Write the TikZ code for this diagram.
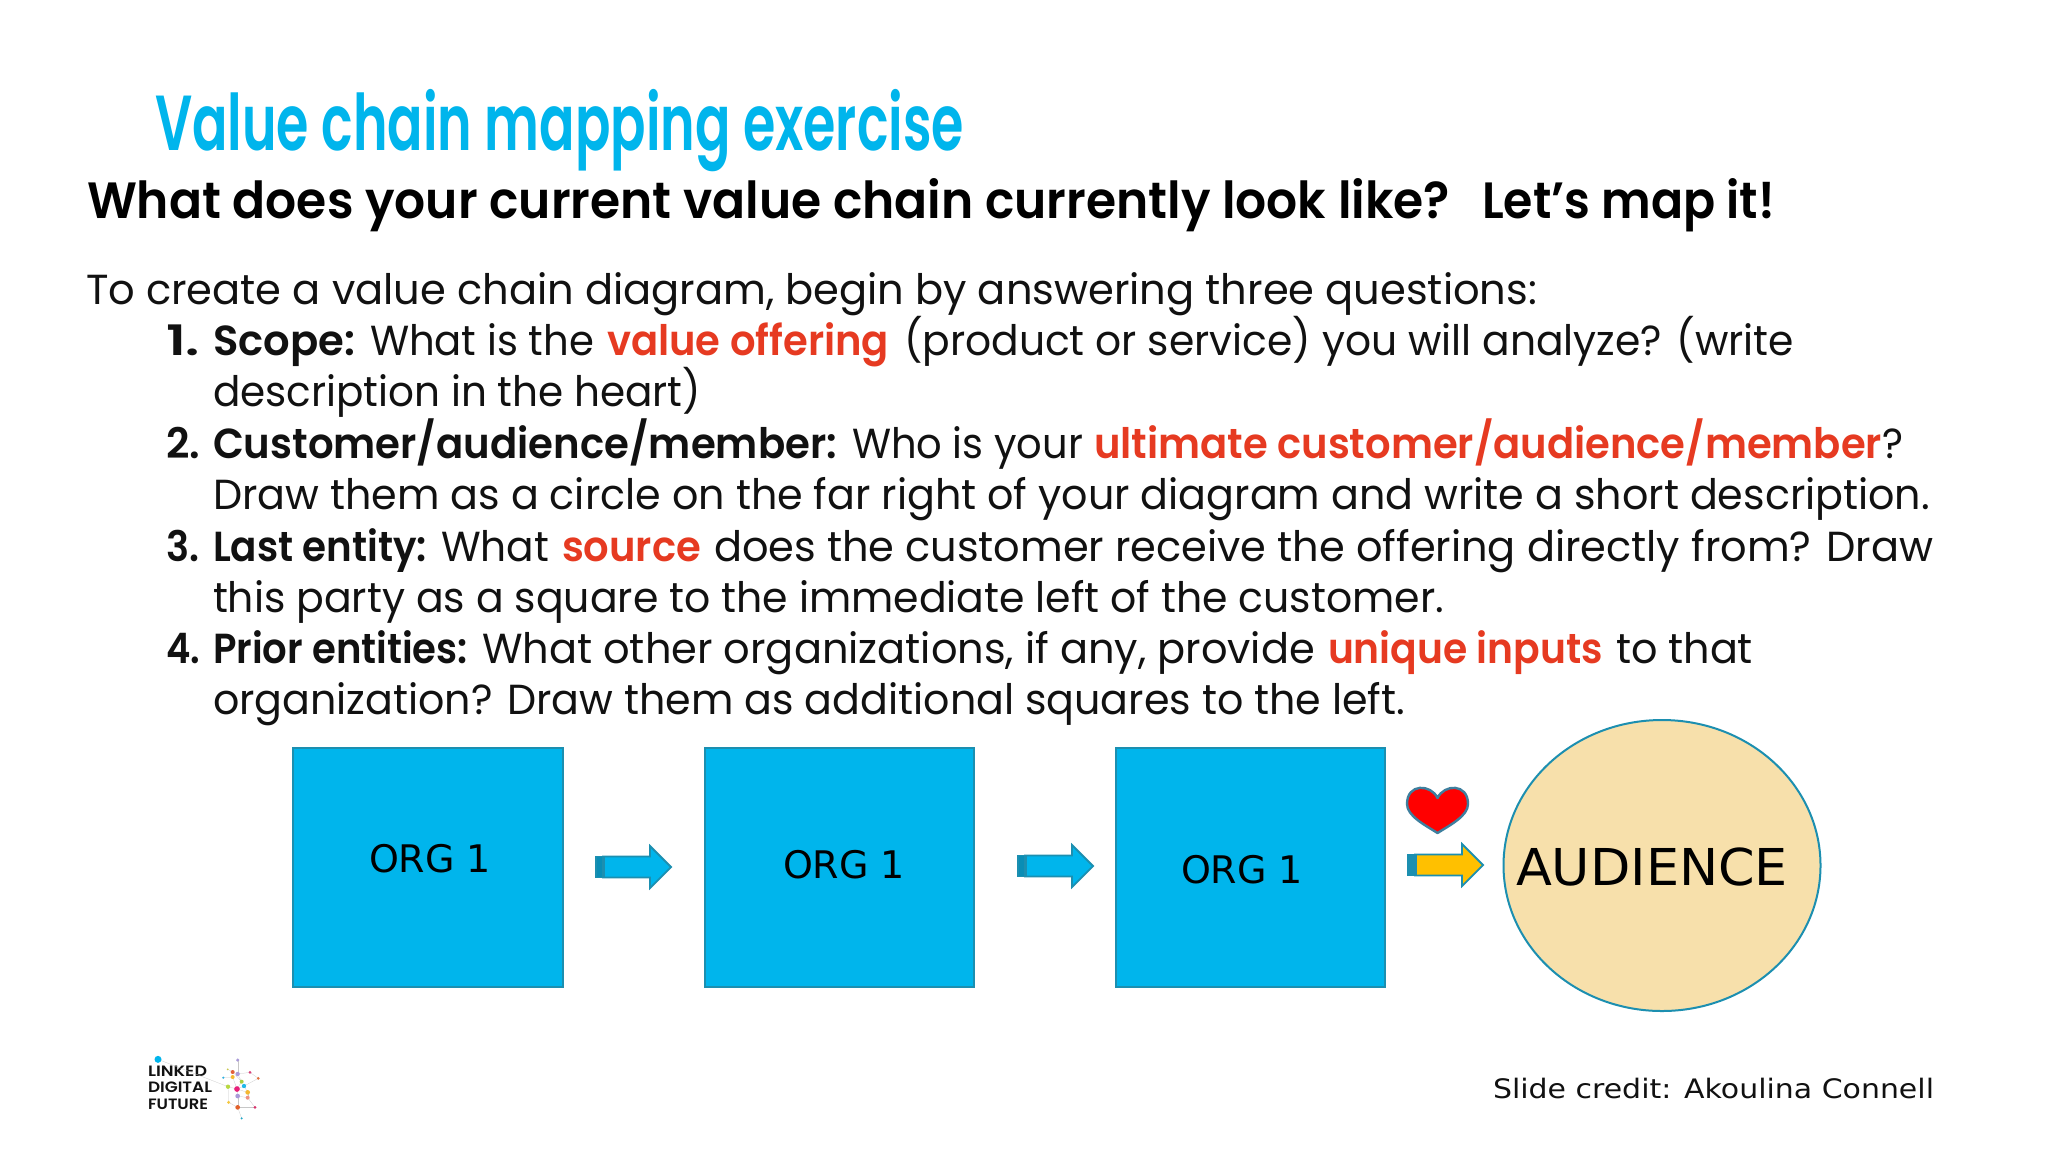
\documentclass[tikz,border=0pt]{standalone}
\usepackage{fontspec}
\usepackage{graphicx}
\usetikzlibrary{shapes.geometric}
\setmainfont{Poppins}[BoldFont={Poppins SemiBold}]
\newfontfamily\dvs{DejaVu Sans}
\definecolor{sky}{HTML}{00B5EC}
\definecolor{skyedge}{HTML}{1C8FB0}
\definecolor{skydark}{HTML}{0A8DB5}
\definecolor{hot}{HTML}{E63A21}
\definecolor{sand}{HTML}{F7E0AB}
\definecolor{gold}{HTML}{FFC000}
\definecolor{heartedge}{HTML}{3E7F9E}
\definecolor{inkk}{HTML}{111111}
\tikzset{
  every node/.style={inner sep=0pt,outer sep=0pt},
  textline/.style={anchor=base west,text=inkk,font=\fontsize{21}{21}\selectfont},
  boldline/.style={textline,font=\bfseries\fontsize{21}{21}\selectfont},
  hotline/.style={boldline,text=hot},
  orgbox/.style={draw=skyedge,fill=sky,line width=1pt,minimum width=134.8pt,minimum height=119.5pt,anchor=north west},
  orglabel/.style={anchor=base west,text=black,font=\dvs\fontsize{19}{19}\selectfont},
  logotext/.style={anchor=base west,text=inkk,font=\bfseries\fontsize{7.5}{7.5}\selectfont},
  logoline/.style={draw=black!22,line width=0.12pt},
}
% style, name, x, baseline y, width, text
\newcommand{\tline}[6]{\node[#1] (#2) at (#3,#4) {\resizebox{\dimexpr #5pt/2\relax}{\height}{#6}};}
% tail x, centre y, colour, strip colour
\newcommand{\blockarrow}[4]{%
  \fill[#4] (#1,#2-10.5) rectangle (#1+8,#2+10.5);
  \draw[draw=skyedge,line width=0.9pt,fill=#3,line join=miter]
    (#1+7,#2-10.5) -- (#1+54,#2-10.5) -- (#1+54,#2-21) -- (#1+75,#2) -- (#1+54,#2+21)
    -- (#1+54,#2+10.5) -- (#1+7,#2+10.5) -- cycle;
  \draw[draw=skyedge,line width=0.9pt] (#1,#2-10.5) rectangle (#1+8,#2+10.5);
}
\begin{document}
\begin{tikzpicture}[x=0.5pt,y=-0.5pt]
\useasboundingbox (0,0) rectangle (2048,1152);
\fill[white] (0,0) rectangle (2048,1152);

% Title and heading
\node[anchor=base west,text=sky,font=\bfseries\fontsize{39}{39}\selectfont] (title) at (155,150)
  {\resizebox{404.5pt}{\height}{Value chain mapping exercise}};
\node[anchor=base west,text=black,font=\bfseries\fontsize{25.5}{25.5}\selectfont] (head) at (87,218)
  {\resizebox{681.5pt}{\height}{What does your current value chain currently look like?}};
\node[anchor=base west,text=black,font=\bfseries\fontsize{25.5}{25.5}\selectfont] (head2) at (1482,218)
  {\resizebox{146.5pt}{\height}{Let’s map it!}};

% Body
\tline{textline}{l0}{86}{304}{1451}{To create a value chain diagram, begin by answering three questions:}

\tline{boldline}{n1}{166}{355}{34}{1.}
\tline{boldline}{k1}{213}{355}{142}{Scope:}
\tline{textline}{a1}{370}{355}{224}{What is the}
\tline{hotline}{r1}{607}{355}{282}{value offering}
\tline{textline}{c1}{904}{355}{890}{(product or service) you will analyze? (write}
\tline{textline}{l1b}{213}{406}{488}{description in the heart)}

\tline{boldline}{n2}{166}{458}{34}{2.}
\tline{boldline}{k2}{213}{458}{624}{Customer/audience/member:}
\tline{textline}{a2}{852}{458}{231}{Who is your}
\tline{hotline}{r2}{1094}{458}{788}{ultimate customer/audience/member}
\tline{textline}{c2}{1882}{458}{21}{?}
\tline{textline}{l2b}{213}{509}{1717}{Draw them as a circle on the far right of your diagram and write a short description.}

\tline{boldline}{n3}{166}{561}{33}{3.}
\tline{boldline}{k3}{213}{561}{214}{Last entity:}
\tline{textline}{a3}{441}{561}{108}{What}
\tline{hotline}{r3}{562}{561}{139}{source}
\tline{textline}{c3}{714}{561}{1219}{does the customer receive the offering directly from? Draw}
\tline{textline}{l3b}{213}{612}{1231}{this party as a square to the immediate left of the customer.}

\tline{boldline}{n4}{166}{663}{34}{4.}
\tline{boldline}{k4}{213}{663}{255}{Prior entities:}
\tline{textline}{a4}{482}{663}{833}{What other organizations, if any, provide}
\tline{hotline}{r4}{1328}{663}{275}{unique inputs}
\tline{textline}{c4}{1616}{663}{137}{to that}
\tline{textline}{l4b}{213}{714}{1192}{organization? Draw them as additional squares to the left.}

% Boxes
\node[orgbox] (b1) at (293,747.5) {};
\node[orgbox] (b2) at (704.5,747.5) {};
\node[orgbox] (b3) at (1115.5,747.5) {};
\node[orglabel] (t1) at (369,872) {ORG 1};
\node[orglabel] (t2) at (783,878) {ORG 1};
\node[orglabel] (t3) at (1181,883) {ORG 1};

% Block arrows
\blockarrow{596}{867}{sky}{skydark}
\blockarrow{1018}{866}{sky}{skydark}
\blockarrow{1408}{865}{gold}{skyedge}

% Heart
\draw[draw=heartedge,line width=1.2pt,fill=red,line join=round]
  (1437.5,798) .. controls (1431,784) and (1407,783) .. (1407,804)
  .. controls (1407,816) and (1425,825) .. (1437.5,833)
  .. controls (1450,825) and (1468,816) .. (1468,804)
  .. controls (1468,783) and (1444,784) .. (1437.5,798) -- cycle;

% Audience
\node[draw=skyedge,line width=1pt,fill=sand,ellipse,minimum width=158.5pt,minimum height=145.5pt] (aud) at (1662,865.5) {};
\node[anchor=base west,text=black,font=\dvs\fontsize{25.4}{25.4}\selectfont] (audt) at (1516,885)
  {\resizebox{136pt}{\height}{AUDIENCE}};

% Credit
\node[anchor=base west,text=inkk,font=\dvs\fontsize{13.4}{13.4}\selectfont] (credit) at (1493,1098)
  {\resizebox{220.5pt}{\height}{Slide credit: Akoulina Connell}};

% Logo
\node[logotext] (lg1) at (148,1076) {\resizebox{29.5pt}{\height}{LINKED}};
\node[logotext] (lg2) at (148,1092) {\resizebox{32pt}{\height}{DIGITAL}};
\node[logotext] (lg3) at (148,1109) {\resizebox{30pt}{\height}{FUTURE}};
\begin{scope}[shift={(120,1030)},x=0.16667pt,y=-0.16667pt]
  \foreach \n/\x/\y in {a/114/88,b/353/90,c/323/118,d/338/126,e/353/132,f/390/127,g/415/145,h/310/143,i/338/141,j/365/155,k/372/168,m/324/170,o/351/177,p/383/187,q/353/198,r/383/203,s/326/217,t/353/232,u/405/232,v/365/265}
    \coordinate (d\n) at (\x,\y);
  \foreach \p/\q in {a/m,b/e,c/d,d/e,e/f,f/g,h/i,i/o,d/j,j/o,k/o,m/o,o/p,o/q,p/r,q/t,s/t,t/u,r/u,t/v,q/r,k/g,m/s,e/j,k/p}
    \draw[logoline] (d\p) -- (d\q);
  \foreach \n/\c/\s in {a/00B5EC/21,b/A99AD8/10,c/C8C84A/6,d/E2603A/12,e/A99AD8/13,f/D8407A/9,g/E2703A/9,h/30B0E0/7,i/F5B830/12,j/A8D040/12,k/20B8E8/13,m/B8D840/13,o/E8207A/17,p/F5B830/14,q/A99AD8/14,r/F09080/12,s/F5C840/10,t/E2602A/14,u/D8306A/9,v/20A8C8/7}
    {\definecolor{tmpdot}{HTML}{\c}\fill[fill=tmpdot] (d\n) circle (\s/2);}
\end{scope}
\end{tikzpicture}
\end{document}
